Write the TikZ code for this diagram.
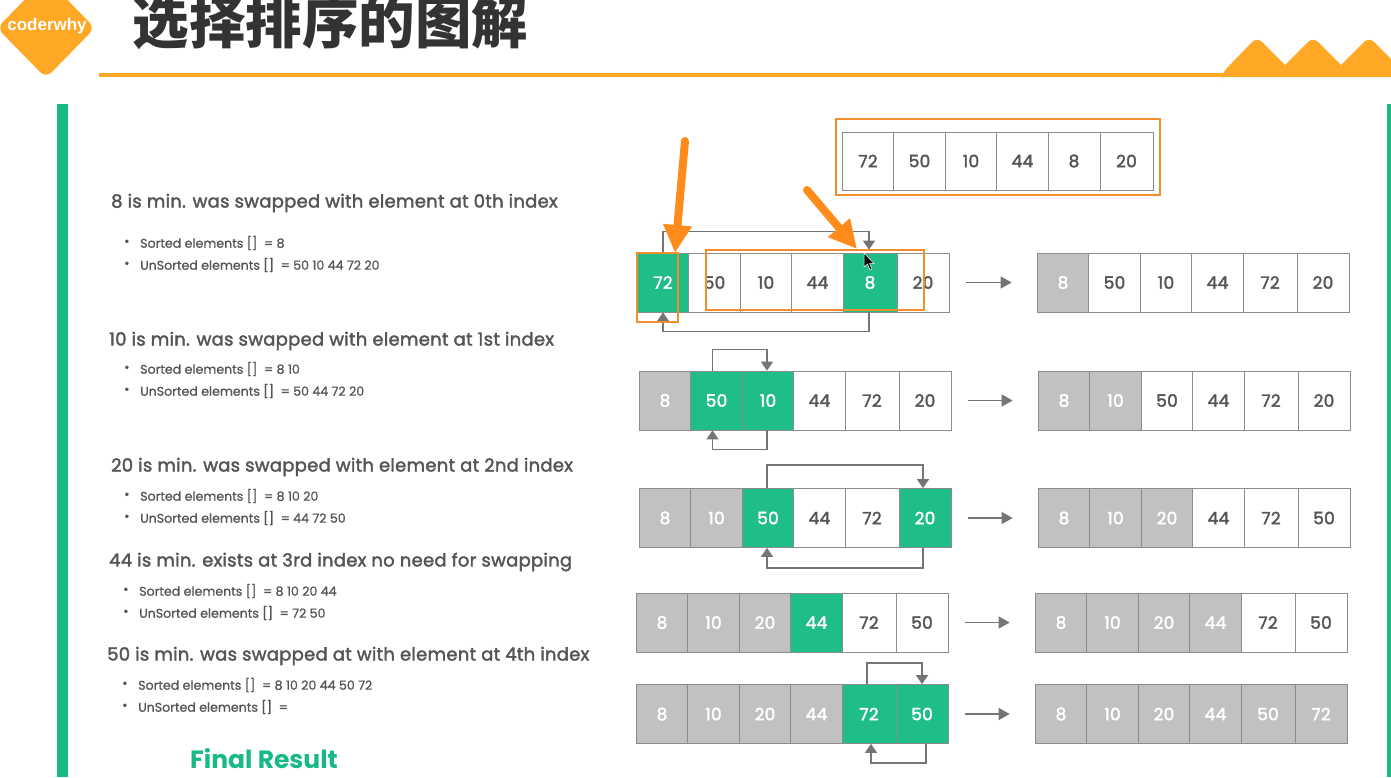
\documentclass[tikz,border=0pt]{standalone}
\usepackage{fontspec}
\setmainfont{Poppins}
\newfontfamily\headfont[FakeBold=2,LetterSpace=1.5]{Poppins}
\newfontfamily\entryfont[FakeBold=1]{Poppins}
\newfontfamily\cjkbold{Noto Sans CJK SC}
\newfontfamily\logofont{Liberation Sans}
\usetikzlibrary{arrows.meta}
\definecolor{headorange}{HTML}{FFA826}
\definecolor{boxorange}{HTML}{F28E2B}
\definecolor{arroworange}{HTML}{FF8C1A}
\definecolor{bandgreen}{HTML}{17B987}
\definecolor{cellgreen}{HTML}{1FBD88}
\definecolor{cellgray}{HTML}{C1C1BF}
\definecolor{linkgray}{HTML}{757575}
\definecolor{textgray}{HTML}{555555}
\tikzset{
    cellbox/.style={rectangle,draw=black!45,line width=0.7pt,minimum width=52,minimum height=59,inner sep=0pt,font=\headfont\fontsize{17}{17}\selectfont},
    cellopen/.style={cellbox,fill=white,text=textgray},
    cellmin/.style={cellbox,fill=cellgreen,text=white},
    celldone/.style={cellbox,fill=cellgray,text=white},
    wide/.style={minimum width=54},
    heading/.style={anchor=west,inner sep=0pt,text=textgray,font=\headfont\fontsize{18}{18}\selectfont},
    entry/.style={anchor=west,inner sep=0pt,text=textgray,font=\entryfont\fontsize{12.6}{13}\selectfont,label={[text=textgray,inner sep=0pt,label distance=10pt,font=\fontsize{14}{14}\selectfont]left:\textbullet}},
    link/.style={draw=linkgray,line width=1.4pt,-{Triangle[length=9pt,width=12pt]}},
    flow/.style={draw=linkgray,line width=1.2pt,shorten <=17pt,shorten >=25pt,-{Triangle[length=11pt,width=12pt]}},
    orangebox/.style={draw=boxorange,line width=2pt},
    bigarrow/.style={draw=arroworange,line width=8pt,line cap=round,-{Triangle[length=28pt,width=27pt]}}
}
\begin{document}
\begin{tikzpicture}[x=1pt,y=-1pt]
    \useasboundingbox (0,0) rectangle (1391,777);

    % Header
    \fill[headorange,rounded corners=8] (46,-22) -- (95,28) -- (46,78) -- (-3,28) -- cycle;
    \node[text=white,inner sep=0pt] (logo) at (47,26) {\logofont\fontsize{17}{17}\selectfont\bfseries coderwhy};
    \node[text=black!80,inner sep=0pt] (title) at (330.5,22.5) {\cjkbold\fontsize{56.5}{57}\selectfont\bfseries 选择排序的图解};
    \fill[headorange] (99,73) rectangle (1230,77);
    \fill[headorange,rounded corners=7] (1222,77) -- (1222,73) -- (1257,37) [sharp corners] -- (1285,65) [rounded corners=7] -- (1313,37) [sharp corners] -- (1341,65) [rounded corners=7] -- (1369,37) [sharp corners] -- (1396,64) -- (1396,77) -- cycle;
    \fill[bandgreen] (57,104) rectangle (68,777);
    \fill[bandgreen] (1387,104) rectangle (1391,777);

    % Left column
    \node[heading] (h1) at (111,203) {8 is min. was swapped with element at 0th index};
    \node[entry] (i11) at (140,243) {Sorted elements []~~= 8};
    \node[entry] (i12) at (140,265) {UnSorted elements []~~= 50 10 44 72 20};
    \node[heading] (h2) at (109,341) {10 is min. was swapped with element at 1st index};
    \node[entry] (i21) at (140,369) {Sorted elements []~~= 8 10};
    \node[entry] (i22) at (140,391) {UnSorted elements []~~= 50 44 72 20};
    \node[heading] (h3) at (111,467) {20 is min. was swapped with element at 2nd index};
    \node[entry] (i31) at (140,496) {Sorted elements []~~= 8 10 20};
    \node[entry] (i32) at (140,518) {UnSorted elements []~~= 44 72 50};
    \node[heading] (h4) at (109,562) {44 is min. exists at 3rd index no need for swapping};
    \node[entry] (i41) at (139,591) {Sorted elements []~~= 8 10 20 44};
    \node[entry] (i42) at (139,613) {UnSorted elements []~~= 72 50};
    \node[heading] (h5) at (107,656) {50 is min. was swapped at with element at 4th index};
    \node[entry] (i51) at (138,685) {Sorted elements []~~= 8 10 20 44 50 72};
    \node[entry] (i52) at (138,707) {UnSorted elements []~~=};
    \node[anchor=west,inner sep=0pt,text=bandgreen,font=\fontsize{25}{25}\selectfont\bfseries] (final) at (190,759) {Final Result};

    % Given array
    \node[cellopen,minimum height=58] (t1) at (868,161) {72};
    \node[cellopen,minimum height=58] (t2) at (919.5,161) {50};
    \node[cellopen,minimum height=58] (t3) at (971,161) {10};
    \node[cellopen,minimum height=58] (t4) at (1022.5,161) {44};
    \node[cellopen,minimum height=58] (t5) at (1074,161) {8};
    \node[cellopen,minimum height=58,minimum width=53] (t6) at (1126.5,161) {20};

    % Pass 1
    \node[cellmin] (p11) at (663,282.5) {72};
    \node[cellopen] (p12) at (714.5,282.5) {50};
    \node[cellopen] (p13) at (766,282.5) {10};
    \node[cellopen] (p14) at (817.5,282.5) {44};
    \node[cellopen] (p16) at (923,282.5) {20};
    \node[cellmin,wide] (p15) at (870,282.5) {8};
    \node[celldone] (q11) at (1063,282.5) {8};
    \node[cellopen] (q12) at (1114.5,282.5) {50};
    \node[cellopen] (q13) at (1166,282.5) {10};
    \node[cellopen] (q14) at (1217.5,282.5) {44};
    \node[cellopen,wide] (q15) at (1270,282.5) {72};
    \node[cellopen] (q16) at (1323,282.5) {20};

    % Pass 2
    \node[celldone] (p21) at (665,400.5) {8};
    \node[cellmin] (p22) at (716.5,400.5) {50};
    \node[cellmin] (p23) at (768,400.5) {10};
    \node[cellopen] (p24) at (819.5,400.5) {44};
    \node[cellopen,wide] (p25) at (872,400.5) {72};
    \node[cellopen] (p26) at (925,400.5) {20};
    \node[celldone] (q21) at (1064,400.5) {8};
    \node[celldone] (q22) at (1115.5,400.5) {10};
    \node[cellopen] (q23) at (1167,400.5) {50};
    \node[cellopen] (q24) at (1218.5,400.5) {44};
    \node[cellopen,wide] (q25) at (1271,400.5) {72};
    \node[cellopen] (q26) at (1324,400.5) {20};

    % Pass 3
    \node[celldone] (p31) at (665,518) {8};
    \node[celldone] (p32) at (716.5,518) {10};
    \node[cellmin] (p33) at (768,518) {50};
    \node[cellopen] (p34) at (819.5,518) {44};
    \node[cellopen,wide] (p35) at (872,518) {72};
    \node[cellmin] (p36) at (925,518) {20};
    \node[celldone] (q31) at (1064,518) {8};
    \node[celldone] (q32) at (1115.5,518) {10};
    \node[celldone] (q33) at (1167,518) {20};
    \node[cellopen] (q34) at (1218.5,518) {44};
    \node[cellopen,wide] (q35) at (1271,518) {72};
    \node[cellopen] (q36) at (1324,518) {50};

    % Pass 4
    \node[celldone] (p41) at (662,622.5) {8};
    \node[celldone] (p42) at (713.5,622.5) {10};
    \node[celldone] (p43) at (765,622.5) {20};
    \node[cellmin] (p44) at (816.5,622.5) {44};
    \node[cellopen,wide] (p45) at (869,622.5) {72};
    \node[cellopen] (p46) at (922,622.5) {50};
    \node[celldone] (q41) at (1061,622.5) {8};
    \node[celldone] (q42) at (1112.5,622.5) {10};
    \node[celldone] (q43) at (1164,622.5) {20};
    \node[celldone] (q44) at (1215.5,622.5) {44};
    \node[cellopen,wide] (q45) at (1268,622.5) {72};
    \node[cellopen] (q46) at (1321,622.5) {50};

    % Pass 5
    \node[celldone] (p51) at (662,714) {8};
    \node[celldone] (p52) at (713.5,714) {10};
    \node[celldone] (p53) at (765,714) {20};
    \node[celldone] (p54) at (816.5,714) {44};
    \node[cellmin,wide] (p55) at (869,714) {72};
    \node[cellmin] (p56) at (922,714) {50};
    \node[celldone] (q51) at (1061,714) {8};
    \node[celldone] (q52) at (1112.5,714) {10};
    \node[celldone] (q53) at (1164,714) {20};
    \node[celldone] (q54) at (1215.5,714) {44};
    \node[celldone,wide] (q55) at (1268,714) {50};
    \node[celldone] (q56) at (1321,714) {72};

    % Swaps
    \draw[link] (p11.north) -- ++(0,-21) -| ([xshift=-1pt,yshift=3pt]p15.north);
    \draw[link] ([xshift=-1pt]p15.south) -- ++(0,19) -| (p11.south);
    \draw[link] ([xshift=-4pt]p22.north) -- ++(0,-21) -| ([xshift=-1pt]p23.north);
    \draw[link] ([xshift=-1pt]p23.south) -- ++(0,19) -| ([xshift=-4pt]p22.south);
    \draw[link] ([xshift=-1pt]p33.north) -- ++(0,-23) -| ([xshift=-2pt]p36.north);
    \draw[link] ([xshift=-2pt]p36.south) -- ++(0,20) -| ([xshift=-1pt]p33.south);
    \draw[link] ([xshift=-2pt]p55.north) -- ++(0,-21) -| (p56.north);
    \draw[link] ([xshift=4pt]p56.south) -- ++(0,19) -| ([xshift=2pt]p55.south);

    % Results
    \draw[flow] (p16.east) -- (q11.west);
    \draw[flow] (p26.east) -- (q21.west);
    \draw[flow] (p36.east) -- (q31.west);
    \draw[flow] (p46.east) -- (q41.west);
    \draw[flow] (p56.east) -- (q51.west);

    % Marks on top
    \coordinate (s1) at (685,141);
    \coordinate (e1) at (675,253);
    \coordinate (s2) at (807,190);
    \coordinate (e2) at (857,249);
    \draw[orangebox] (836,119) rectangle (1160,195);
    \draw[orangebox] (637,253) rectangle (678,322);
    \draw[orangebox] (706,250) rectangle (924,310);
    \draw[bigarrow] (s1) -- (e1);
    \draw[bigarrow] (s2) -- (e2);
    \draw[fill=black,draw=white,line width=0.5pt] (864,253) -- (864,267) -- (867.5,264) -- (870,270) -- (872,269) -- (869.5,263.5) -- (874,263.5) -- cycle;

\end{tikzpicture}
\end{document}
